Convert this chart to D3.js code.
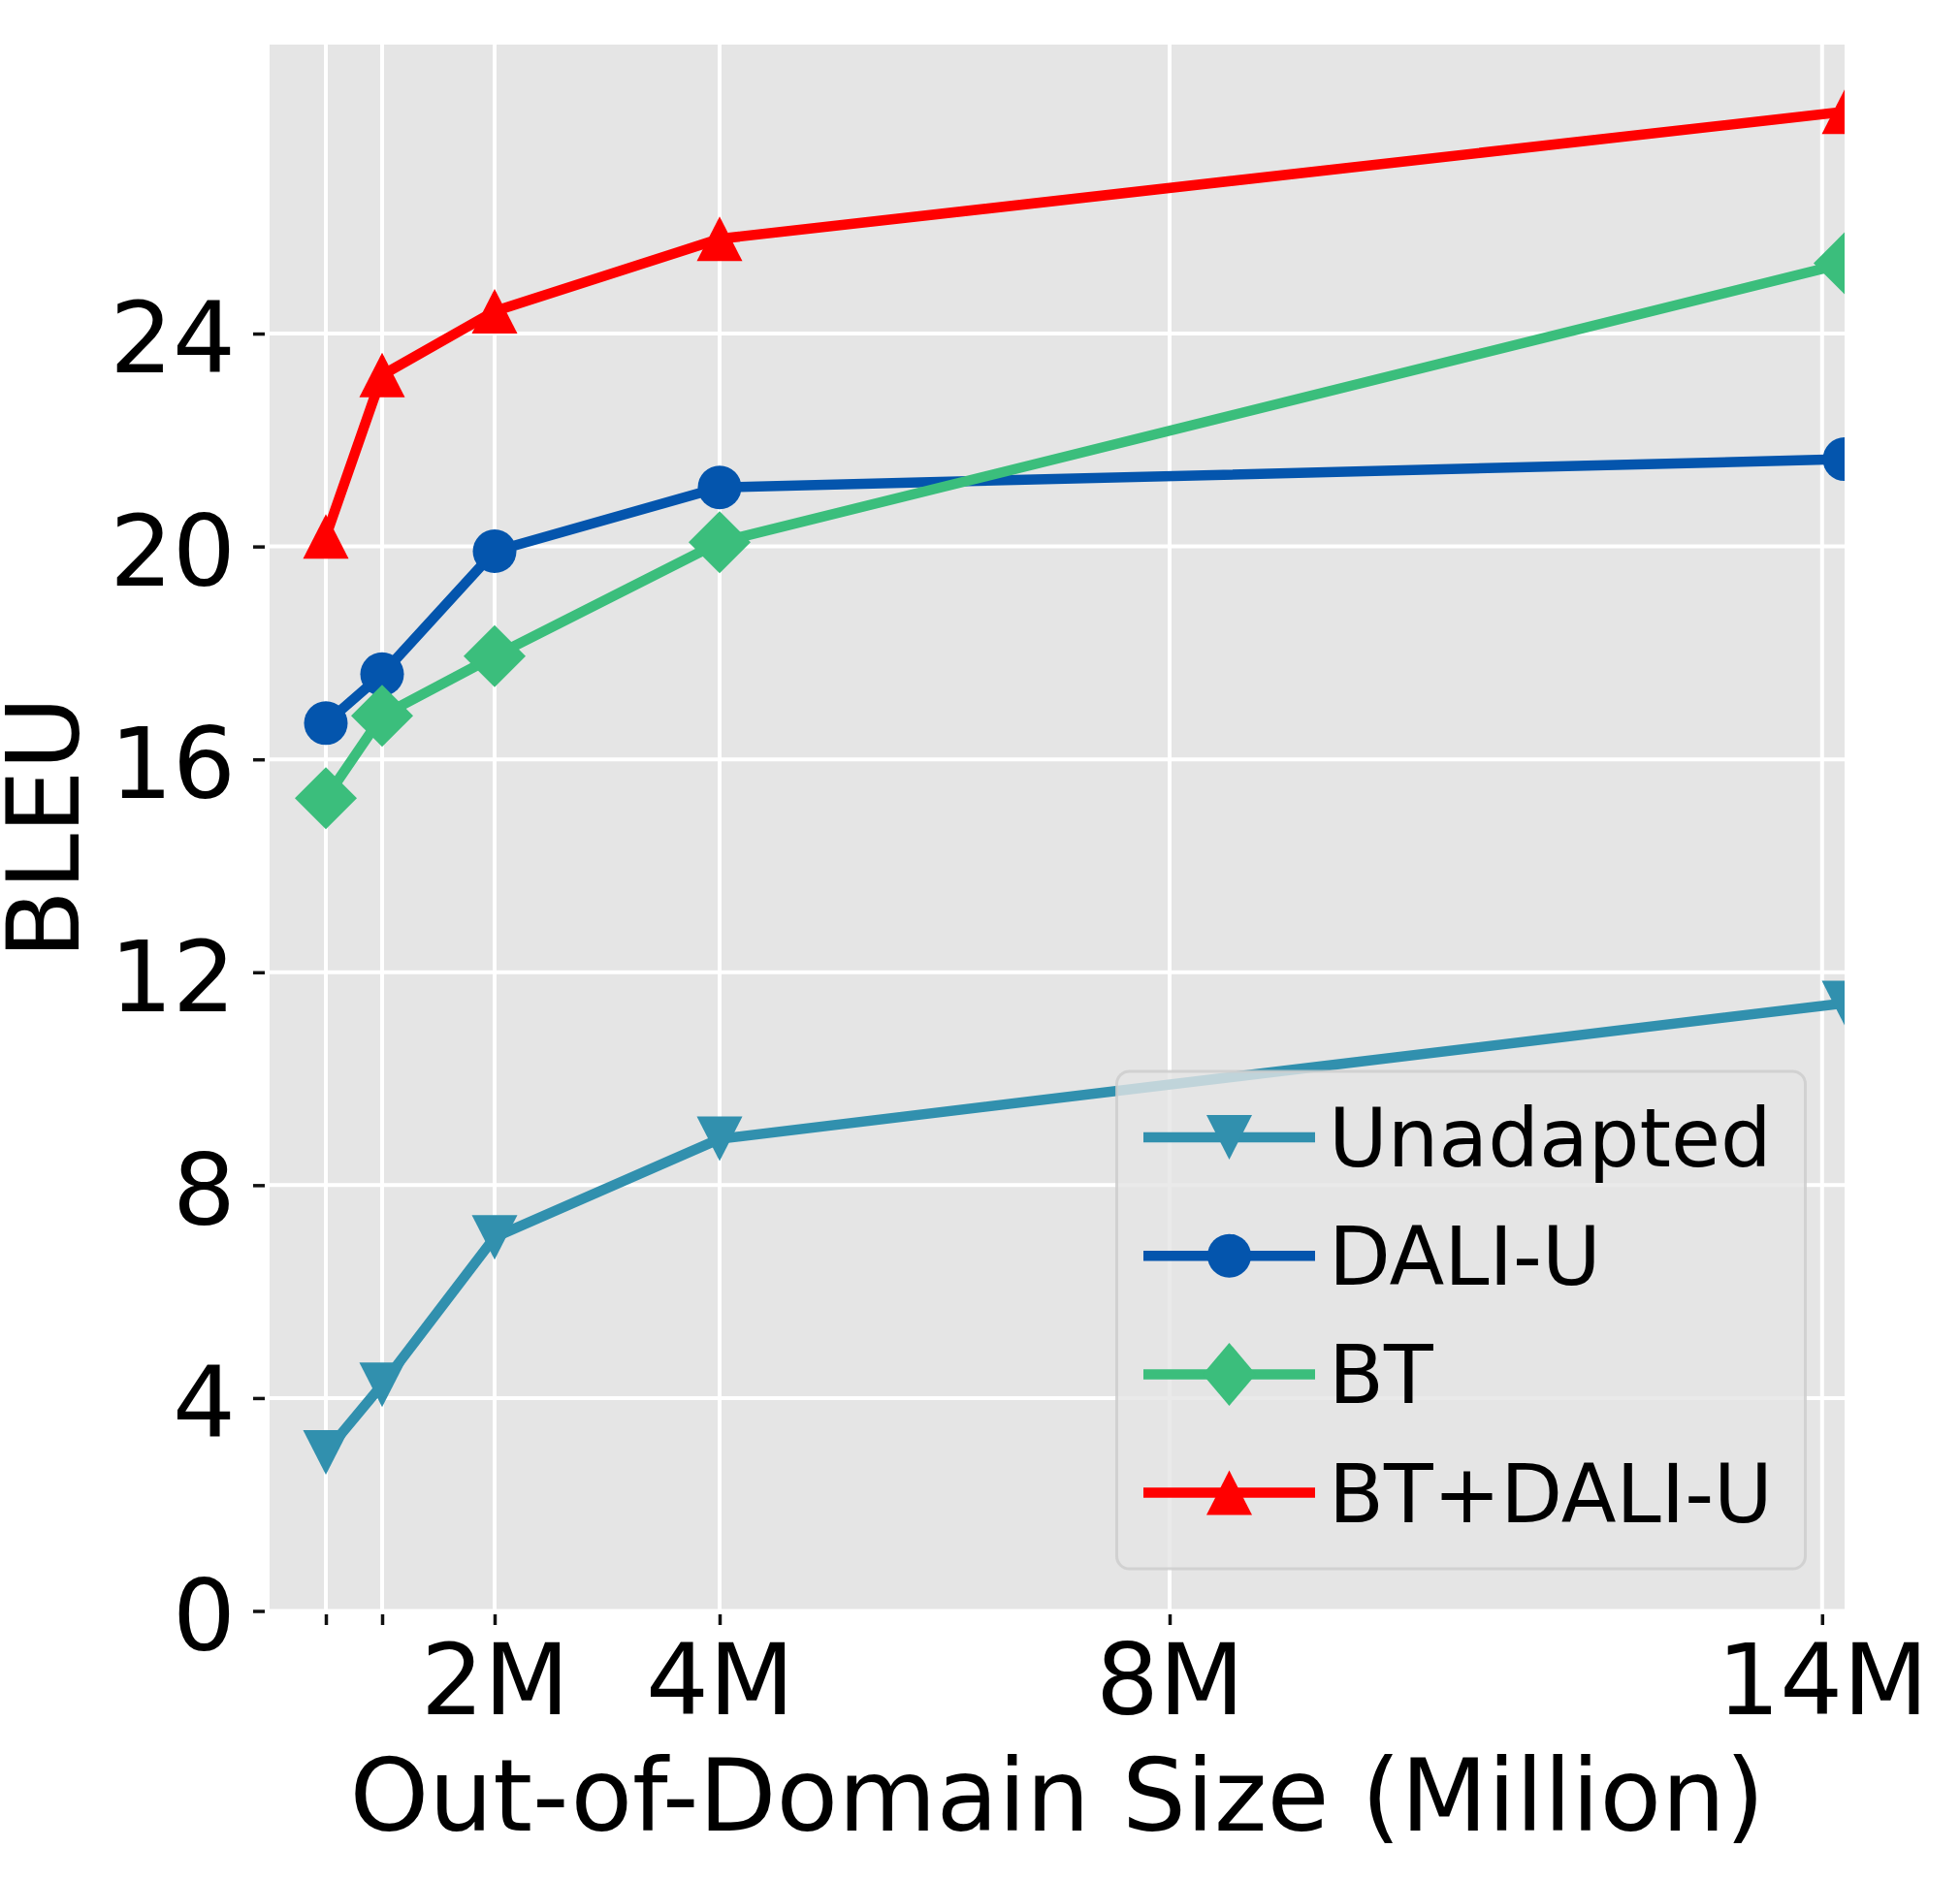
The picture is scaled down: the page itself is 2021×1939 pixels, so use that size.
<!DOCTYPE html>
<html>
<head>
<meta charset="utf-8">
<script src="https://cdn.jsdelivr.net/npm/d3@7"></script>
<style>
	body { margin: 0; background: #ffffff; }
	text { font-family: 'DejaVu Sans', sans-serif; fill: #000000; }
</style>
</head>
<body>
<div id="chart"></div>
<script>
var width = 2021,
	height = 1939;

// data
var sizes = [0.5, 1, 2, 4, 14];
var xTicks = [0.5, 1, 2, 4, 8, 13.8];
var xTickLabels = ['', '', '2M', '4M', '8M', '14M'];
var yTicks = [0, 4, 8, 12, 16, 20, 24];

var seriesNames = ['Unadapted', 'DALI-U', 'BT', 'BT+DALI-U'];
var unadapted = [2.98, 4.25, 7.02, 8.87, 11.42];
var daliU = [16.68, 17.6, 19.91, 21.11, 21.64];
var bt = [15.27, 16.82, 17.94, 20.08, 25.32];
var btDaliU = [20.19, 23.22, 24.42, 25.78, 28.17];

var colors = ['#3190ae', '#0455ad', '#3bbe7c', '#ff0000'];
var markers = ['down', 'circle', 'diamond', 'up'];

var series = [unadapted, daliU, bt, btDaliU].map(function(vals, i) {
	return {
		name: seriesNames[i],
		color: colors[i],
		marker: markers[i],
		points: vals.map(function(v, j) { return { x: sizes[j], y: v }; })
	};
});

var plot = { left: 278, right: 1902, top: 46, bottom: 1661.5 };

var allY = d3.merge([unadapted, daliU, bt, btDaliU]);
var yMax = d3.max(allY) + 0.05 * (d3.max(allY) - d3.min(allY));

var x = d3.scaleLinear()
	.domain([0, 14])
	.range([plot.left, plot.right]);

var y = d3.scaleLinear()
	.domain([0, yMax])
	.range([plot.bottom, plot.top]);

var svg = d3.select('#chart').append('svg')
	.attr('width', width)
	.attr('height', height);

svg.append('rect')
	.attr('width', width)
	.attr('height', height)
	.style('fill', '#ffffff');

svg.append('defs').append('clipPath')
	.attr('id', 'clip')
	.append('rect')
	.attr('x', plot.left)
	.attr('y', plot.top)
	.attr('width', plot.right - plot.left)
	.attr('height', plot.bottom - plot.top);

// background + grid
svg.append('rect')
	.attr('x', plot.left)
	.attr('y', plot.top)
	.attr('width', plot.right - plot.left)
	.attr('height', plot.bottom - plot.top)
	.style('fill', '#e5e5e5');

var grid = svg.append('g').classed('grid', true);

grid.selectAll('line.gx')
	.data(xTicks)
	.enter()
	.append('line')
	.attr('x1', function(d) { return x(d); })
	.attr('x2', function(d) { return x(d); })
	.attr('y1', plot.top)
	.attr('y2', plot.bottom)
	.style('stroke', '#ffffff')
	.style('stroke-width', 4);

grid.selectAll('line.gy')
	.data(yTicks)
	.enter()
	.append('line')
	.attr('x1', plot.left)
	.attr('x2', plot.right)
	.attr('y1', function(d) { return y(d); })
	.attr('y2', function(d) { return y(d); })
	.style('stroke', '#ffffff')
	.style('stroke-width', 4);

// axes
var xAxis = d3.axisBottom(x)
	.tickValues(xTicks)
	.tickFormat(function(d, i) { return xTickLabels[i]; })
	.tickSize(11)
	.tickPadding(20);

var gx = svg.append('g')
	.attr('transform', 'translate(0,' + (plot.bottom + 3.5) + ')')
	.call(xAxis);

var yAxis = d3.axisLeft(y)
	.tickValues(yTicks)
	.tickSize(12)
	.tickPadding(18);

var gy = svg.append('g')
	.attr('transform', 'translate(' + (plot.left - 5) + ',0)')
	.call(yAxis);

[gx, gy].forEach(function(g) {
	g.select('.domain').remove();
	g.selectAll('.tick line')
		.style('stroke', '#111111')
		.style('stroke-width', 3.5);
	g.selectAll('.tick text')
		.style('font-family', "'DejaVu Sans', sans-serif")
		.style('font-size', '102px')
		.style('fill', '#000000');
});
gy.selectAll('.tick text').attr('dy', '0.39em');

// marker shapes
function markerPath(type, w, h) {
	var a = w / 2, b = h / 2;
	if (type === 'up') return 'M0,' + (-b) + 'L' + a + ',' + b + 'L' + (-a) + ',' + b + 'Z';
	if (type === 'down') return 'M0,' + b + 'L' + a + ',' + (-b) + 'L' + (-a) + ',' + (-b) + 'Z';
	if (type === 'diamond') return 'M0,' + (-b) + 'L' + a + ',0L0,' + b + 'L' + (-a) + ',0Z';
	return 'M' + (-a) + ',0A' + a + ',' + a + ' 0 1,0 ' + a + ',0A' + a + ',' + a + ' 0 1,0 ' + (-a) + ',0Z';
}

function markerSize(type) {
	if (type === 'diamond') return [64, 64];
	if (type === 'circle') return [45, 45];
	return [47, 46];
}

var lineGen = d3.line()
	.x(function(d) { return x(d.x); })
	.y(function(d) { return y(d.y); });

var lines = svg.append('g')
	.attr('clip-path', 'url(#clip)');

var groups = lines.selectAll('g.series')
	.data(series)
	.enter()
	.append('g')
	.classed('series', true);

groups.append('path')
	.attr('d', function(d) { return lineGen(d.points); })
	.style('fill', 'none')
	.style('stroke', function(d) { return d.color; })
	.style('stroke-width', 10.5)
	.style('stroke-linejoin', 'round');

groups.each(function(s) {
	d3.select(this).selectAll('path.marker')
		.data(s.points)
		.enter()
		.append('path')
		.classed('marker', true)
		.attr('transform', function(d) { return 'translate(' + x(d.x) + ',' + y(d.y) + ')'; })
		.attr('d', function() {
			var sz = markerSize(s.marker);
			return markerPath(s.marker, sz[0], sz[1]);
		})
		.style('fill', s.color);
});

// axis titles
svg.append('text')
	.attr('x', (plot.left + plot.right) / 2)
	.attr('y', 1888)
	.attr('text-anchor', 'middle')
	.style('font-size', '104px')
	.text('Out-of-Domain Size (Million)');

svg.append('text')
	.attr('transform', 'translate(81,' + ((plot.top + plot.bottom) / 2) + ') rotate(-90)')
	.attr('text-anchor', 'middle')
	.style('font-size', '104px')
	.text('BLEU');

// legend
var legend = svg.append('g').classed('legend', true);

legend.append('rect')
	.attr('x', 1151.5)
	.attr('y', 1105)
	.attr('width', 710)
	.attr('height', 513)
	.attr('rx', 13)
	.style('fill', '#e5e5e5')
	.style('fill-opacity', 0.8)
	.style('stroke', '#cccccc')
	.style('stroke-opacity', 0.8)
	.style('stroke-width', 3);

var rows = legend.selectAll('g.row')
	.data(series)
	.enter()
	.append('g')
	.classed('row', true)
	.attr('transform', function(d, i) { return 'translate(0,' + (1173 + i * 122.2) + ')'; });

rows.append('line')
	.attr('x1', 1179)
	.attr('x2', 1356)
	.style('stroke', function(d) { return d.color; })
	.style('stroke-width', 10.5);

rows.append('path')
	.attr('transform', 'translate(1267.5,0)')
	.attr('d', function(d) {
		var sz = d.marker === 'diamond' ? [55, 65] : markerSize(d.marker);
		return markerPath(d.marker, sz[0], sz[1]);
	})
	.style('fill', function(d) { return d.color; });

rows.append('text')
	.attr('x', 1370)
	.attr('y', 30)
	.style('font-size', '83px')
	.text(function(d) { return d.name; });
</script>
</body>
</html>
